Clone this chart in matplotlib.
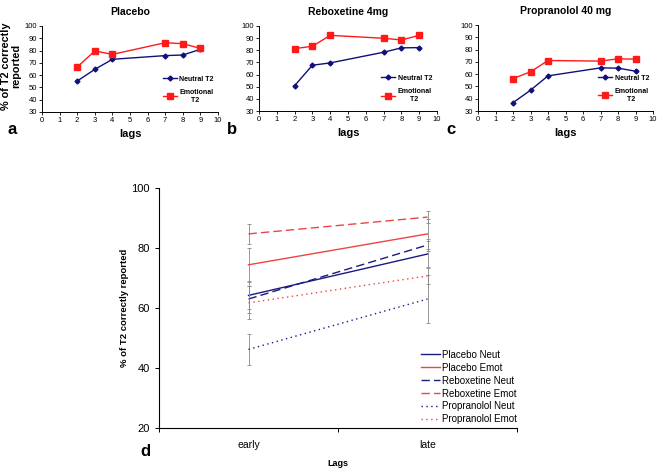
import numpy as np
import matplotlib
matplotlib.use("Agg")
import matplotlib.pyplot as plt

plt.rcParams["font.family"] = ["Liberation Sans", "DejaVu Sans"]

# ─── DATA ────────────────────────────────────────────────────────────────────
lags = [2, 3, 4, 7, 8, 9]

placebo_neut = [55.2, 64.7, 72.9, 75.9, 76.4, 81.0]
placebo_emot = [66.6, 79.7, 76.9, 86.4, 85.6, 81.8]
reboxetine_neut = [50.8, 67.7, 69.6, 78.4, 82.0, 82.2]
reboxetine_emot = [81.4, 83.3, 92.3, 89.9, 88.5, 92.3]
propranolol_neut = [36.8, 46.9, 58.6, 65.1, 64.9, 62.4]
propranolol_emot = [56.4, 61.9, 71.1, 70.6, 72.5, 72.2]

panel_titles = ["Placebo", "Reboxetine 4mg", "Propranolol 40 mg"]
panel_letters = ["a", "b", "c"]

periods = ["early", "late"]
summary_names = ["Placebo Neut", "Placebo Emot", "Reboxetine Neut",
                 "Reboxetine Emot", "Propranolol Neut", "Propranolol Emot"]
summary_means = [
    [64.2, 78.0],
    [74.4, 84.7],
    [63.0, 81.0],
    [84.7, 90.3],
    [46.2, 63.0],
    [61.7, 70.7],
]
summary_err = [
    [4.5, 4.3],
    [5.5, 5.0],
    [4.5, 2.0],
    [3.4, 2.1],
    [5.3, 8.0],
    [5.5, 2.8],
]

NAVY = "#10107a"
RED = "#ff1a1a"
NAVY_D = "#1a1a80"
RED_D = "#ee4444"

W, H = 658, 468


def rect(x0, x1, y0, y1):
    return [x0 / W, 1 - y1 / H, (x1 - x0) / W, (y1 - y0) / H]


fig = plt.figure(figsize=(W / 100, H / 100), dpi=100)

# ─── TOP PANELS ──────────────────────────────────────────────────────────────
top_rects = [rect(42, 218, 26, 112), rect(259, 437, 26, 111), rect(478, 653, 25, 111)]
top_data = [(placebo_neut, placebo_emot), (reboxetine_neut, reboxetine_emot),
            (propranolol_neut, propranolol_emot)]
letter_x = [8, 227, 446]

for i, (r, (neut, emot)) in enumerate(zip(top_rects, top_data)):
    ax = fig.add_axes(r)
    ax.plot(lags, neut, color=NAVY, lw=1.0, marker="D", ms=2.5, label="Neutral T2")
    ax.plot(lags, emot, color=RED, lw=1.0, marker="s", ms=4.5, label="Emotional\n      T2")
    ax.set_xlim(0, 10)
    ax.set_ylim(30, 100)
    ax.set_xticks(range(0, 11))
    ax.set_yticks(range(30, 101, 10))
    ax.tick_params(labelsize=5.5, length=2, width=0.6, pad=1.5)
    for s in ["top", "right"]:
        ax.spines[s].set_visible(False)
    for s in ["left", "bottom"]:
        ax.spines[s].set_linewidth(0.7)
    ax.set_title(panel_titles[i], fontsize=7.5, fontweight="bold", pad=8)
    ax.set_xlabel("lags", fontsize=8, fontweight="bold", labelpad=4)
    ax.legend(loc="center left", bbox_to_anchor=(0.67, 0.26), frameon=False,
              handlelength=2.0, labelspacing=0.9, handletextpad=0.4,
              borderaxespad=0, prop={"size": 5, "weight": "bold"})
    fig.text(letter_x[i] / W, 1 - 130 / H, panel_letters[i], fontsize=12,
             fontweight="bold", va="center", ha="left")

fig.text(11 / W, 1 - 66 / H, "% of T2 correctly\nreported", rotation=90,
         fontsize=7.8, fontweight="bold", ha="center", va="center",
         multialignment="center", linespacing=1.1)

# ─── BOTTOM PANEL ────────────────────────────────────────────────────────────
axd = fig.add_axes(rect(159, 517, 188, 428))
colors = [NAVY_D, RED_D] * 3
styles = ["-", "-", (0, (6, 3)), (0, (6, 3)), (0, (1, 2.5)), (0, (1, 2.5))]
xpos = np.arange(len(periods))
for name, m, e, c, ls in zip(summary_names, summary_means, summary_err, colors, styles):
    axd.errorbar(xpos, m, yerr=e, fmt="none", ecolor="#888888", elinewidth=0.6,
                 capsize=1.5, capthick=0.6)
    axd.plot(xpos, m, color=c, ls=ls, lw=1.0, label=name)

axd.set_xlim(-0.5, 1.5)
axd.set_ylim(20, 100)
axd.set_yticks(range(20, 101, 20))
axd.set_xticks([-0.5, 0.5, 1.5])
axd.set_xticklabels([])
axd.set_xticks(xpos, minor=True)
axd.set_xticklabels(periods, minor=True)
axd.tick_params(axis="x", which="minor", length=0, pad=9, labelsize=7.5)
axd.tick_params(axis="both", which="major", length=3, width=0.7, labelsize=8)
for s in ["top", "right"]:
    axd.spines[s].set_visible(False)
for s in ["left", "bottom"]:
    axd.spines[s].set_linewidth(0.8)
axd.set_xlabel("Lags", fontsize=6.5, fontweight="bold", labelpad=6)
axd.set_ylabel("% of T2 correctly reported", fontsize=6.8, fontweight="bold", labelpad=2)
axd.legend(loc="lower right", bbox_to_anchor=(1.0, 0.015), frameon=False,
           fontsize=7, handlelength=1.9, labelspacing=0.3, handletextpad=0.25,
           borderaxespad=0, borderpad=0)
fig.text(140 / W, 1 - 451 / H, "d", fontsize=12, fontweight="bold",
         va="center", ha="left")

fig.savefig("out.png", dpi=100)
